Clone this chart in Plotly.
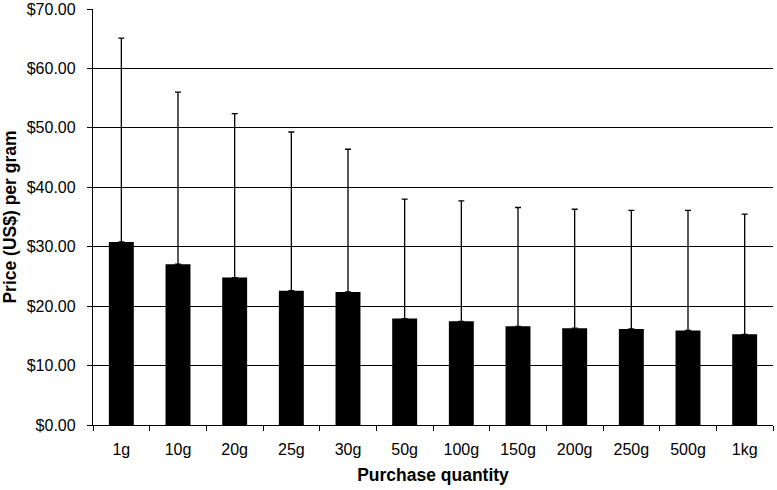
import plotly.graph_objects as go

categories = ["1g", "10g", "20g", "25g", "30g", "50g", "100g", "150g", "200g", "250g", "500g", "1kg"]
prices = [30.8, 27.05, 24.8, 22.6, 22.4, 17.9, 17.45, 16.6, 16.3, 16.15, 15.9, 15.25]
err_plus = [34.3, 28.95, 27.6, 26.7, 24.0, 20.1, 20.25, 20.0, 20.0, 19.95, 20.2, 20.25]
y_ticks = [0, 10, 20, 30, 40, 50, 60, 70]
y_tick_labels = ["$%.2f" % v for v in y_ticks]

font_family = "Liberation Sans, Arial, sans-serif"

fig = go.Figure()
fig.add_trace(go.Bar(
    x=categories,
    y=prices,
    marker=dict(color="black", line=dict(width=0)),
    error_y=dict(type="data", symmetric=False, array=err_plus,
                 arrayminus=[0] * len(err_plus),
                 color="black", thickness=1.3, width=3),
))

fig.update_layout(
    width=777, height=490,
    margin=dict(l=93, r=4, t=9, b=65),
    paper_bgcolor="white", plot_bgcolor="white",
    bargap=0.56,
    showlegend=False,
    font=dict(family=font_family, color="black", size=16),
    xaxis=dict(
        type="category",
        automargin=False,
        showline=True, linecolor="black", linewidth=1.3,
        ticks="outside", tickson="boundaries", ticklen=5, tickcolor="black", tickwidth=1.3,
        showgrid=False,
        tickfont=dict(size=16),
        ticklabelstandoff=10,
        title=dict(text="<b>Purchase quantity</b>", font=dict(size=17.5), standoff=11),
    ),
    yaxis=dict(
        range=[0, 70],
        automargin=False,
        tickvals=y_ticks, ticktext=y_tick_labels,
        showline=True, linecolor="black", linewidth=1.3,
        ticks="outside", ticklen=5, tickcolor="black", tickwidth=1.3,
        showgrid=True, gridcolor="black", gridwidth=1.3,
        zeroline=False,
        tickfont=dict(size=16),
        ticklabelstandoff=8,
        title=dict(text="<b>Price (US$) per gram</b>", font=dict(size=17.5), standoff=8),
    ),
)

fig.write_html("out.html", config={"displayModeBar": False},
               post_script="document.body.style.margin='0';")
